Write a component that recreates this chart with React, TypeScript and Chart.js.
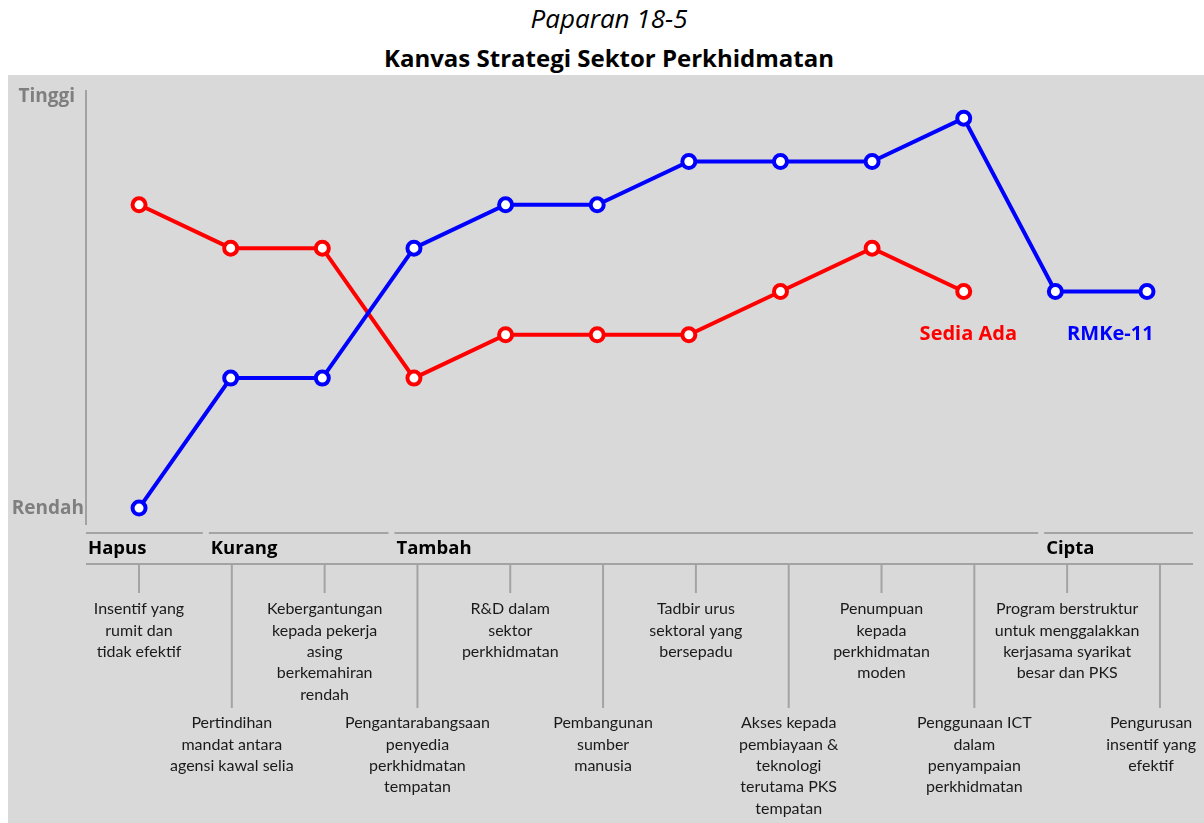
import React, { useEffect, useRef } from "react";
import { Chart, registerables } from "chart.js";

Chart.register(...registerables);

const TITLE = "Paparan 18-5";
const SUBTITLE = "Kanvas Strategi Sektor Perkhidmatan";

const FACTORS: string[][] = [
  ["Insentif yang", "rumit dan", "tidak efektif"],
  ["Pertindihan", "mandat antara", "agensi kawal selia"],
  ["Kebergantungan", "kepada pekerja", "asing", "berkemahiran", "rendah"],
  ["Pengantarabangsaan", "penyedia", "perkhidmatan", "tempatan"],
  ["R&D dalam", "sektor", "perkhidmatan"],
  ["Pembangunan", "sumber", "manusia"],
  ["Tadbir urus", "sektoral yang", "bersepadu"],
  ["Akses kepada", "pembiayaan &", "teknologi", "terutama PKS", "tempatan"],
  ["Penumpuan", "kepada", "perkhidmatan", "moden"],
  ["Penggunaan ICT", "dalam", "penyampaian", "perkhidmatan"],
  ["Program berstruktur", "untuk menggalakkan", "kerjasama syarikat", "besar dan PKS"],
  ["Pengurusan", "insentif yang", "efektif"],
];

const SEDIA_ADA: (number | null)[] = [7, 6, 6, 3, 4, 4, 4, 5, 6, 5, null, null];
const RMKE11: number[] = [0, 3, 3, 6, 7, 7, 8, 8, 8, 9, 5, 5];
const SERIES_NAMES = ["Sedia Ada", "RMKe-11"];

const Y_LABELS = ["Rendah", "Tinggi"];
const Y_LABEL_VALUES = [0, 9.5];

const GROUPS = ["Hapus", "Kurang", "Tambah", "Cipta"];
const GROUP_START = [0, 1, 3, 10];
const GROUP_END = [0, 2, 9, 11];

const RED = "#ff0000";
const BLUE = "#0000ff";
const FONT = "Lato, 'Open Sans', sans-serif";
const BOLD_FONT = "'Open Sans', Lato, sans-serif";

const decorPlugin = {
  id: "decor",
  beforeDatasetsDraw(chart: any) {
    const { ctx, chartArea } = chart;
    const y = chart.scales.y;
    ctx.save();
    ctx.strokeStyle = "#8f8f8f";
    ctx.lineWidth = 1.5;
    ctx.beginPath();
    ctx.moveTo(chartArea.left, chartArea.top);
    ctx.lineTo(chartArea.left, chartArea.bottom);
    ctx.stroke();
    ctx.font = `bold 19px ${BOLD_FONT}`;
    ctx.fillStyle = "#7f7f7f";
    ctx.textBaseline = "middle";
    ctx.textAlign = "right";
    Y_LABELS.forEach((t, i) => {
      const off = i === 0 ? 2 : 11;
      ctx.fillText(t, chartArea.left - off, y.getPixelForValue(Y_LABEL_VALUES[i]));
    });
    ctx.restore();
  },
  afterDatasetsDraw(chart: any) {
    const { ctx, chartArea } = chart;
    const x = chart.scales.x;
    const y = chart.scales.y;
    const xs = chart.scales.x2;
    ctx.save();
    // series name labels
    ctx.font = `bold 20px ${BOLD_FONT}`;
    ctx.textBaseline = "middle";
    ctx.textAlign = "center";
    ctx.fillStyle = RED;
    ctx.fillText(SERIES_NAMES[0], x.getPixelForValue(9.05), y.getPixelForValue(4));
    ctx.fillStyle = BLUE;
    ctx.fillText(SERIES_NAMES[1], x.getPixelForValue(10.6), y.getPixelForValue(4));

    const b = chartArea.bottom;
    ctx.strokeStyle = "#a3a3a3";
    ctx.lineWidth = 2;
    // group bars
    GROUPS.forEach((g, k) => {
      const x0 = k === 0 ? chartArea.left : xs.getPixelForValue(GROUP_START[k] - 0.28) + 3;
      const x1 = k === GROUPS.length - 1 ? chartArea.right : xs.getPixelForValue(GROUP_END[k] + 0.72) - 3;
      ctx.beginPath();
      ctx.moveTo(x0, b + 8);
      ctx.lineTo(x1, b + 8);
      ctx.stroke();
      ctx.font = `bold 18.5px ${BOLD_FONT}`;
      ctx.fillStyle = "#000";
      ctx.textAlign = "left";
      ctx.textBaseline = "middle";
      ctx.fillText(g, x0 + 2, b + 24);
    });
    ctx.beginPath();
    ctx.moveTo(chartArea.left, b + 39);
    ctx.lineTo(chartArea.right, b + 39);
    ctx.stroke();
    // factor labels
    ctx.font = `16px ${FONT}`;
    ctx.fillStyle = "#1a1a1a";
    ctx.textAlign = "center";
    const maxRight = chart.width - 8;
    FACTORS.forEach((lines, i) => {
      const px = xs.getPixelForValue(i);
      const long = i % 2 === 1;
      ctx.beginPath();
      ctx.moveTo(px, b + 39);
      ctx.lineTo(px, long ? b + 183 : b + 68);
      ctx.stroke();
      const w = Math.max(...lines.map((t) => ctx.measureText(t).width));
      const cx = Math.min(px, maxRight - w / 2);
      const y0 = long ? b + 198 : b + 84;
      lines.forEach((t, j) => ctx.fillText(t, cx, y0 + j * 21.4));
    });
    ctx.restore();
  },
};

export default function App() {
  const ref = useRef<HTMLCanvasElement | null>(null);
  useEffect(() => {
    if (!ref.current) return;
    const red = SEDIA_ADA.map((v, i) => ({ x: i, y: v })).filter((p) => p.y !== null);
    const blue = RMKE11.map((v, i) => ({ x: i, y: v }));
    const chart = new Chart(ref.current, {
      type: "line",
      data: {
        datasets: [
          {
            label: SERIES_NAMES[1],
            data: blue as any,
            borderColor: BLUE,
            borderWidth: 4,
            pointRadius: 6.5,
            pointBorderWidth: 4,
            pointBackgroundColor: "#ffffff",
            pointBorderColor: BLUE,
            tension: 0,
            clip: false as any,
          },
          {
            label: SERIES_NAMES[0],
            data: red as any,
            borderColor: RED,
            borderWidth: 4,
            pointRadius: 6.5,
            pointBorderWidth: 4,
            pointBackgroundColor: "#ffffff",
            pointBorderColor: RED,
            tension: 0,
            clip: false as any,
          },
        ],
      },
      options: {
        animation: false,
        responsive: true,
        maintainAspectRatio: false,
        layout: { padding: { left: 78, top: 15, right: 11, bottom: 298 } },
        plugins: { legend: { display: false }, tooltip: { enabled: false }, title: { display: false } },
        scales: {
          x: { type: "linear", min: -0.579, max: 11.502, display: false },
          x2: { type: "linear", min: -0.571, max: 11.356, display: false },
          y: { type: "linear", min: -0.39, max: 9.65, display: false },
        },
      },
      plugins: [decorPlugin],
    });
    return () => chart.destroy();
  }, []);

  return (
    <div style={{ position: "fixed", left: 0, top: 0, width: 1204, height: 823, background: "#fff", overflow: "hidden" }}>
      <div style={{ position: "absolute", left: 0, top: 2, width: 1218, textAlign: "center", fontFamily: BOLD_FONT, fontStyle: "italic", fontSize: 26, lineHeight: "32px", color: "#000" }}>
        {TITLE}
      </div>
      <div style={{ position: "absolute", left: 0, top: 42, width: 1218, textAlign: "center", fontFamily: BOLD_FONT, fontWeight: "bold", fontSize: 24, lineHeight: "32px", color: "#000" }}>
        {SUBTITLE}
      </div>
      <div style={{ position: "absolute", left: 8, top: 75, width: 1196, height: 748, background: "#d9d9d9" }}>
        <canvas ref={ref} />
      </div>
    </div>
  );
}
